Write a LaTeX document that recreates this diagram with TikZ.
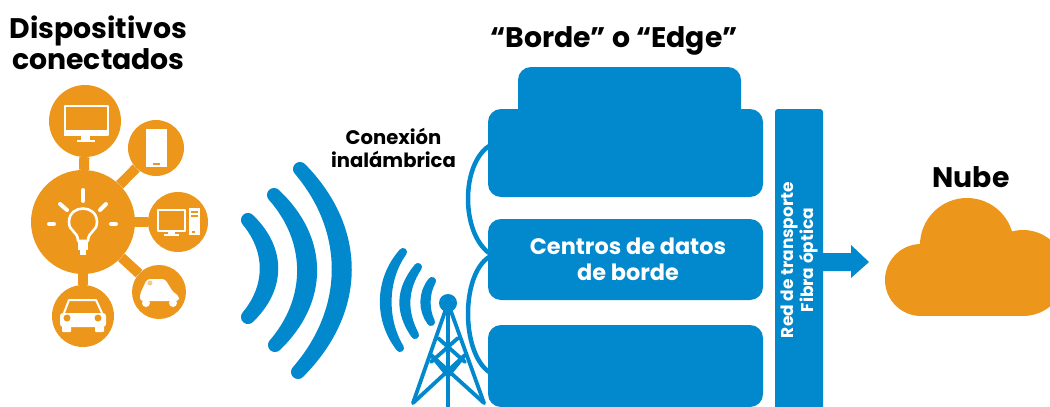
\documentclass[tikz,border=0pt]{standalone}
\usepackage{fontspec}
\setmainfont{Poppins}
\definecolor{org}{HTML}{EC961B}
\definecolor{blu}{HTML}{0288CC}
\tikzset{
 disc/.style={circle,fill=org,inner sep=0pt,minimum size=#1},
 link/.style={draw=org,line width=10pt},
 ico/.style={draw=white,line width=2pt,line join=round},
 ray/.style={draw=white,line width=4pt,line cap=round},
 wave/.style={draw=blu,line width=14pt,line cap=round},
 wavesm/.style={draw=blu,line width=8pt,line cap=round},
 mast/.style={draw=blu,line width=3.8pt,line cap=round,line join=round},
 dc/.style={fill=blu,rounded corners=13pt},
 fibre/.style={draw=blu,line width=4.5pt},
 head/.style={font=\bfseries\fontsize{28.3}{31}\selectfont,align=center,text=black,inner sep=0pt},
 lab/.style={font=\bfseries\fontsize{19.6}{23}\selectfont,align=center,text=black,inner sep=0pt},
 inbox/.style={font=\bfseries\fontsize{22.4}{26}\selectfont,align=center,text=white,inner sep=0pt},
 side/.style={font=\bfseries\fontsize{17}{20}\selectfont,align=center,text=white,inner sep=0pt,rotate=90},
}
\begin{document}
\begin{tikzpicture}[x=1pt,y=-1pt]
\useasboundingbox (0,0) rectangle (1050,407);
\clip (0,0) rectangle (1050,407);
% hub
\node[disc=104pt] (hub) at (83,222) {};
\node[disc=72pt] (n1) at (85,121) {};
\node[disc=56pt] (n2) at (156,148) {};
\node[disc=60pt] (n3) at (178,222) {};
\node[disc=54pt] (n4) at (159,292) {};
\node[disc=62pt] (n5) at (83,316) {};
\draw[link] (hub) -- (n1);
\draw[link] (hub) -- (n2);
\draw[link] (hub) -- (n3);
\draw[link] (hub) -- (n4);
\draw[link] (hub) -- (n5);
% bulb
\draw[ico,line width=2.6pt] (78,241) .. controls (78,231) and (69,232) .. (69,222) .. controls (69,204) and (97,204) .. (97,222) .. controls (97,232) and (88,231) .. (88,241) -- cycle;
\fill[white] (78,242) rectangle (88,250);
\fill[white] (80,250) rectangle (86,255);
\draw[ray] (83,190) -- (83,201);
\draw[ray] (60,204) -- (67,210);
\draw[ray] (106,204) -- (100,210);
\draw[ray] (49,224) -- (54,224);
\draw[ray] (111,224) -- (116,224);
% monitor
\draw[ico] (64.5,106) rectangle (107.5,135);
\fill[white] (64,130) rectangle (108,136);
\fill[white] (81,136) rectangle (90,140);
\fill[white] (77,140) rectangle (95,142);
% phone
\fill[white] (146,129) rectangle (167,167);
\fill[org] (153,163) rectangle (160,165);
% desktop
\draw[ico,line width=1.6pt] (158,210) rectangle (185,231);
\fill[white] (168,231) rectangle (175,234);
\fill[white] (164,234) rectangle (179,236);
\fill[white] (189,208) rectangle (200,235);
\fill[org] (191,211) rectangle (198,213);
\fill[org] (191,215) rectangle (198,217);
\fill[org] (192,231) rectangle (195,233);
% small car
\fill[white,rounded corners=3pt] (140,301) -- (140,294) -- (147,279) -- (165,279) -- (173,292) -- (179,296) -- (179,301) -- cycle;
\fill[white] (146,303) circle (4pt);
\fill[white] (173,303) circle (4pt);
\fill[org!50!white] (150,283) circle (2.5pt);
% car
\draw[ico,line width=2pt] (64,313) -- (69,300) -- (96,300) -- (102,313);
\fill[white,rounded corners=3pt] (60,313) rectangle (106,327);
\fill[org] (67,318) circle (3.5pt);
\fill[org] (98,318) circle (3.5pt);
\fill[white,rounded corners=1pt] (62,326) rectangle (71,332);
\fill[white,rounded corners=1pt] (95,326) rectangle (104,332);
% big waves
\path[wave] (248,220) .. controls (279,250) and (279,287) .. (248,317) (248,220) .. controls (273,250) and (273,287) .. (248,317);
\path[wave] (274,195) .. controls (322,240) and (322,300) .. (275,345) (274,195) .. controls (314,240) and (314,300) .. (275,345);
\path[wave] (300,169) .. controls (360,230) and (360,310) .. (298,372) (300,169) .. controls (352,230) and (352,310) .. (298,372);
% mast waves
\path[wavesm] (403,252) .. controls (378,280) and (378,320) .. (400,348) (403,252) .. controls (383,280) and (383,320) .. (400,348);
\path[wavesm] (418,267) .. controls (399,290) and (399,312) .. (415,335) (418,267) .. controls (403,290) and (403,312) .. (415,335);
\path[wavesm] (432,281) .. controls (422,293) and (422,310) .. (431,322) (432,281) .. controls (425,293) and (425,310) .. (431,322);
\node[circle,fill=blu,inner sep=0pt,minimum size=18pt] (top) at (448,303) {};
\coordinate (fl) at (413,403);
\coordinate (fr) at (484,403);
\coordinate (fm) at (448,407);
\draw[mast] (fl) -- (top.center) -- (fr);
\draw[mast] (top.center) -- (fm);
\draw[mast] (fl) -- (465,355);
\draw[mast] (fr) -- (431,355);
\draw[mast] (431,355) -- (448,376) -- (465,355);
\draw[mast] (438,338) -- (465,362);
\draw[mast] (458,338) -- (431,362);
% data centres
\path[dc] (518,160) rectangle (741,67);
\path[dc] (488,197) rectangle (763,109);
\path[dc] (488,300) rectangle (763,219);
\path[dc] (488,407) rectangle (763,325);
\coordinate (dcA) at (489,146);
\coordinate (dcB) at (489,253);
\coordinate (dcC) at (489,257);
\coordinate (dcD) at (489,372);
\draw[fibre] (dcA) .. controls (461,165) and (461,232) .. (dcB);
\draw[fibre] (dcC) .. controls (461,275) and (461,352) .. (dcD);
\node[inbox] (dctext) at (628,259) {Centros de datos\\de borde};
% transport
\path[fill=blu,rounded corners=3pt] (775,420) -- (775,109) -- (823,109) -- (823,420) -- cycle;
\node[side] (rt) at (799,260) {Red de transporte\\Fibra óptica};
\fill[blu] (823,253) -- (851,253) -- (851,245) -- (869,262) -- (851,278) -- (851,271) -- (823,271) -- cycle;
% cloud
\fill[org] (967,245) circle (47pt);
\fill[org] (921,280) circle (36pt);
\fill[org] (1023,273) circle (43pt);
\fill[org] (921,250) rectangle (1023,316);
% labels
\node[head] (t1) at (98.5,43) {Dispositivos\\conectados};
\node[head] (t2) at (614,41) {“Borde” o “Edge”};
\node[head] (t3) at (971,177) {Nube};
\node[lab] (t4) at (393.5,148) {Conexión\\inalámbrica};
\end{tikzpicture}
\end{document}
